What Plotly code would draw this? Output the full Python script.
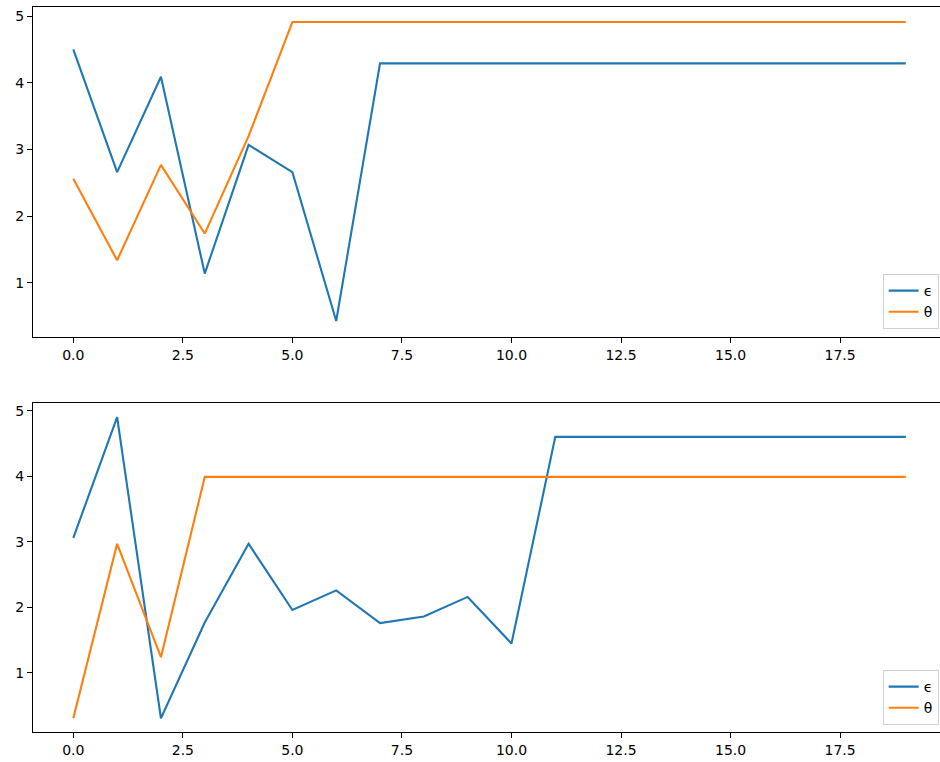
import plotly.graph_objects as go
from plotly.subplots import make_subplots

steps = list(range(20))

# upper panel
eps_a = [4.50, 2.66, 4.09, 1.14, 3.07, 2.66, 0.43] + [4.29] * 13
theta_a = [2.56, 1.34, 2.77, 1.74, 3.20] + [4.91] * 15

# lower panel
eps_b = [3.06, 4.90, 0.31, 1.77, 2.97, 1.96, 2.26, 1.76, 1.86, 2.16, 1.45] + [4.60] * 9
theta_b = [0.31, 2.97, 1.24] + [3.99] * 17

x_ticks = [0.0, 2.5, 5.0, 7.5, 10.0, 12.5, 15.0, 17.5]
x_tick_text = [f"{v:.1f}" for v in x_ticks]
y_ticks = [1, 2, 3, 4, 5]

BLUE = "#1f77b4"
ORANGE = "#ff7f0e"
FONT = "DejaVu Sans"

W, H = 940, 762

fig = make_subplots(rows=2, cols=1)

fig.add_trace(go.Scatter(x=steps, y=eps_a, mode="lines", name="ϵ",
                         line=dict(color=BLUE, width=2.1), legend="legend"), row=1, col=1)
fig.add_trace(go.Scatter(x=steps, y=theta_a, mode="lines", name="θ",
                         line=dict(color=ORANGE, width=2.1), legend="legend"), row=1, col=1)
fig.add_trace(go.Scatter(x=steps, y=eps_b, mode="lines", name="ϵ",
                         line=dict(color=BLUE, width=2.1), legend="legend2"), row=2, col=1)
fig.add_trace(go.Scatter(x=steps, y=theta_b, mode="lines", name="θ",
                         line=dict(color=ORANGE, width=2.1), legend="legend2"), row=2, col=1)

# axes placement in pixels (top, bottom)
top_box = (7, 337)
bot_box = (403, 732)

def dom(box):
    return [1 - box[1] / H, 1 - box[0] / H]

axis_common = dict(
    showgrid=False, zeroline=False, showline=True, linecolor="black", linewidth=1,
    ticks="outside", ticklen=5, tickwidth=1, tickcolor="black",
    tickfont=dict(family=FONT, size=14, color="black"),
)

x_range = [-0.92, 19.78]
fig.update_xaxes(**axis_common, range=x_range, tickvals=x_ticks, ticktext=x_tick_text,
                 mirror=True, domain=[0, 1])
fig.update_yaxes(**axis_common, tickvals=y_ticks)

fig.update_layout(
    yaxis=dict(domain=dom(top_box), range=[0.19, 5.135]),
    yaxis2=dict(domain=dom(bot_box), range=[0.10, 5.117]),
)

legend_common = dict(
    xref="paper", yref="paper", x=0.9985, xanchor="right", yanchor="bottom",
    bgcolor="rgba(255,255,255,0.8)", bordercolor="#d0d0d0", borderwidth=1,
    font=dict(family=FONT, size=14, color="black"), itemwidth=30,
    tracegroupgap=2,
)
fig.update_layout(
    legend=dict(**legend_common, y=1 - 329 / H),
    legend2=dict(**legend_common, y=1 - 725 / H),
)

fig.update_layout(
    width=W, height=H,
    margin=dict(l=33, r=0, t=0, b=0),
    plot_bgcolor="white", paper_bgcolor="white",
    font=dict(family=FONT, size=14, color="black"),
    showlegend=True,
)

fig.write_html("out.html")
